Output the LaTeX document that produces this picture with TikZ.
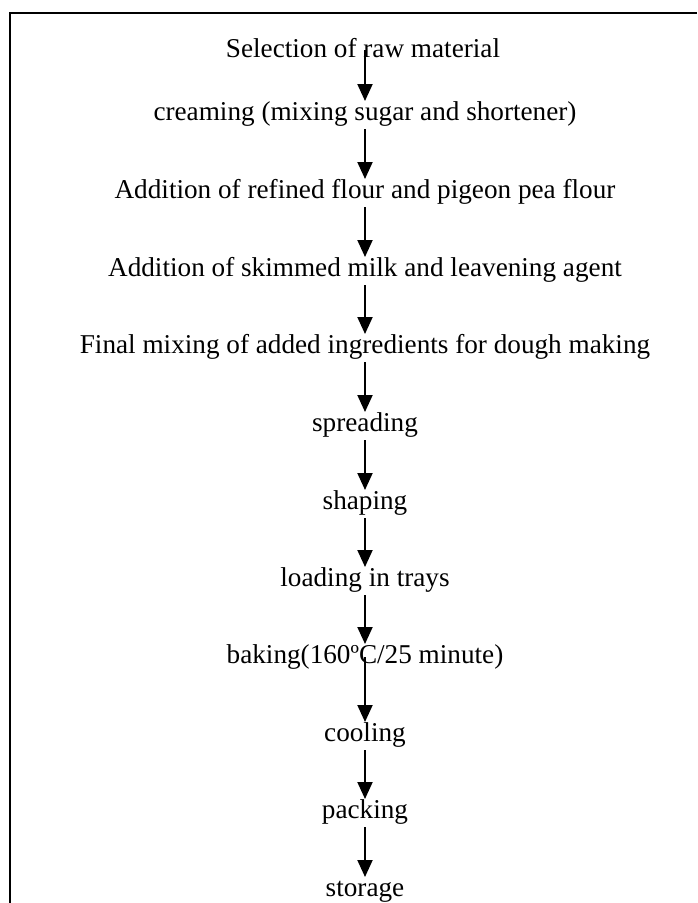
\documentclass[tikz,border=0pt]{standalone}
\usepackage{fontspec}
\setmainfont{Liberation Serif}
\usetikzlibrary{arrows.meta}
\begin{document}
\begin{tikzpicture}[x=1pt,y=-1pt,
  stepnode/.style={anchor=base,inner sep=0pt,font=\fontsize{27.2}{32}\selectfont},
  arr/.style={line width=2pt,-{Triangle[width=15pt,length=17pt]}},
  frame/.style={line width=2pt}]
\useasboundingbox (0,0) rectangle (697,903);
\coordinate (fbl) at (10,903);
\coordinate (ftl) at (10,12.7);
\coordinate (ftr) at (697,12.7);
\draw[frame] (fbl) -- (ftl) -- (ftr);
\node[stepnode] (n1) at (363,57) {Selection of raw material};
\node[stepnode] (n2) at (365,120) {creaming (mixing sugar and shortener)};
\node[stepnode] (n3) at (365,198) {Addition of refined flour and pigeon pea flour};
\node[stepnode] (n4) at (365,276) {Addition of skimmed milk and leavening agent};
\node[stepnode] (n5) at (365,353) {Final mixing of added ingredients for dough making};
\node[stepnode] (n6) at (365,431) {spreading};
\node[stepnode] (n7) at (365,509) {shaping};
\node[stepnode] (n8) at (365,586) {loading in trays};
\node[stepnode] (n9) at (365,663) {baking(160ºC/25 minute)};
\node[stepnode] (n10) at (365,741) {cooling};
\node[stepnode] (n11) at (365,818) {packing};
\node[stepnode] (n12) at (365,896) {storage};
\draw[arr] ([xshift=2pt,yshift=7pt]n1.base) -- ([yshift=19pt]n2.base);
\foreach \a/\b in {n2/n3,n3/n4,n4/n5,n5/n6,n6/n7,n7/n8,n8/n9,n10/n11,n11/n12}{
  \draw[arr] ([yshift=-9pt]\a.base -| 365,0) -- ([yshift=19pt]\b.base -| 365,0);
}
\draw[arr] ([yshift=6pt]n9.base -| 365,0) -- ([yshift=19pt]n10.base -| 365,0);
\end{tikzpicture}
\end{document}
